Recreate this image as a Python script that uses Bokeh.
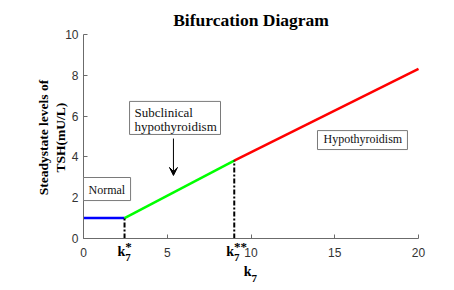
import math
from bokeh.plotting import figure
from bokeh.models import Range1d, FixedTicker, Label, BoxAnnotation, Arrow, VeeHead
from bokeh.embed import file_html
from bokeh.resources import INLINE

# ---- data ----
k7_star = 2.45
k7_dstar = 9.0
normal_x = [0, 2.45]
normal_y = [1.0, 1.0]
sub_x = [2.45, 9.0]
sub_y = [1.0, 3.82]
hypo_x = [9.0, 20.0]
hypo_y = [3.82, 8.32]
x_ticks = [0, 5, 10, 15, 20]
y_ticks = [0, 2, 4, 6, 8, 10]
x_bounds = (0, 20)
y_bounds = (0, 10)
title_text = "Bifurcation Diagram"
ylabel_lines = ["Steadystate levels of", "TSH(mU/L)"]

SERIF = "Liberation Serif"
SANS = "Liberation Sans"

# frame covers whole canvas; axes are fixed at 0 and bounded
p = figure(width=454, height=290, output_backend="svg", toolbar_location=None,
           x_range=Range1d(-4.955, 22.149), y_range=Range1d(-2.549, 11.667),
           min_border=0)
p.outline_line_color = None
p.xgrid.visible = False
p.ygrid.visible = False
p.background_fill_color = "white"
p.border_fill_color = "white"

for ax in (p.xaxis, p.yaxis):
    ax.fixed_location = 0
    ax.axis_line_color = "#6b6b6b"
    ax.major_tick_line_color = "#6b6b6b"
    ax.major_tick_in = 4
    ax.major_tick_out = 0
    ax.minor_tick_line_color = None
    ax.major_label_text_font = SANS
    ax.major_label_text_font_size = "12px"
    ax.major_label_text_color = "#333333"
p.xaxis.bounds = x_bounds
p.yaxis.bounds = y_bounds
p.xaxis.ticker = FixedTicker(ticks=x_ticks)
p.yaxis.ticker = FixedTicker(ticks=y_ticks)
p.xaxis.major_label_standoff = 9
p.yaxis.major_label_standoff = 5

# lines
p.line(normal_x, normal_y, line_color="#0000ff", line_width=2.5)
p.line(sub_x, sub_y, line_color="#00ff00", line_width=2.5)
p.line(hypo_x, hypo_y, line_color="#ff0000", line_width=2.5)
p.line([k7_star, k7_star], [0, normal_y[-1]], line_color="black", line_width=2, line_dash="5 2 2 2")
p.line([k7_dstar, k7_dstar], [0, sub_y[-1]], line_color="black", line_width=2, line_dash="5 2 2 2")

def lab(x, y, text, size, bold=True, align="center", angle=0.0, font=SERIF, color="black"):
    p.add_layout(Label(x=x, y=y, text=text, text_font=font,
                       text_font_style="bold" if bold else "normal",
                       text_font_size=size, text_align=align, text_baseline="middle",
                       angle=angle, text_color=color))

# title
lab(10, 10.69, title_text, "17.5px")
# y label (two lines)
lab(-2.39, 4.95, ylabel_lines[0], "13.5px", angle=math.pi / 2)
lab(-1.37, 4.95, ylabel_lines[1], "13.5px", angle=math.pi / 2)

# k7 labels
def k_label(xright, sup, ky=-0.62, sy=-0.95, py=-0.40):
    lab(xright, ky, "k", "14px", align="right")
    lab(xright, sy, "7", "11px", align="left")
    if sup:
        lab(xright, py, sup, "13px", align="left")

k_label(k7_star + 0.05, "*")
k_label(k7_dstar - 0.02, "**")
k_label(10.03, "", ky=-1.62, sy=-1.96)

# annotation boxes
def box(l, r, t, b):
    p.add_layout(BoxAnnotation(left=l, right=r, top=t, bottom=b, fill_color="white", fill_alpha=1,
                               line_color="#7a7a7a", line_alpha=1, line_width=1))

box(0.0, 2.81, 2.99, 1.86)
lab(0.30, 2.40, "Normal", "12px", bold=False, align="left", color="#111111")
box(2.75, 8.18, 6.72, 5.10)
lab(3.04, 6.18, "Subclinical", "13px", bold=False, align="left", color="#111111")
lab(3.04, 5.49, "hypothyroidism", "13px", bold=False, align="left", color="#111111")
box(13.97, 19.34, 5.29, 4.36)
lab(14.33, 4.88, "Hypothyroidism", "12px", bold=False, align="left", color="#111111")

p.add_layout(Arrow(x_start=5.37, y_start=4.90, x_end=5.37, y_end=3.09, line_color="black", line_width=1,
                   end=VeeHead(size=8, fill_color="black", line_color="black")))

open("out.html", "w").write(file_html(p, INLINE))
